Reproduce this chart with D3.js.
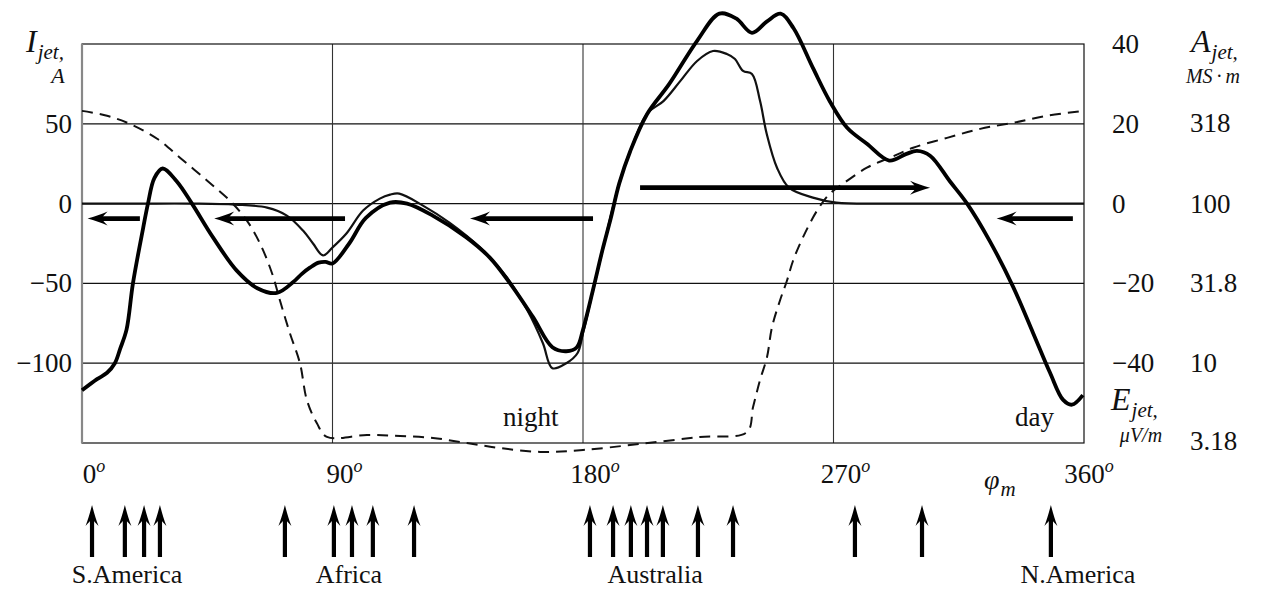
<!DOCTYPE html>
<html>
<head>
<meta charset="utf-8">
<script src="https://cdn.jsdelivr.net/npm/d3@7"></script>
<style>
  body { margin: 0; background: #fff; }
  svg text { font-family: "Liberation Serif", "DejaVu Serif", serif; fill: #111; }
</style>
</head>
<body>
<svg id="chart" width="1264" height="590"></svg>
<script>
// magnetic longitude ticks
const degTicks = [0, 90, 180, 270, 360];
const iTicks = [50, 0, -50, -100];          // I_jet, A
const aTicks = [40, 20, 0, -20, -40];       // A_jet, MS*m
const eTicks = [318, 100, 31.8, 10, 3.18];  // E_jet, uV/m (log)

// thick curve: I_jet [deg, A]
const iJet = [
  [0, -117], [5.4, -110], [9, -106], [11.8, -100], [13.7, -91], [16, -79], [18.3, -50],
  [22, -15], [23.7, 0], [26, 16], [29, 22], [34, 14], [39.5, 0], [47, -21], [55.6, -42],
  [63, -53], [70, -56], [76, -49], [79, -44], [82, -40], [85, -37], [87.5, -36.5], [90, -37.5],
  [96, -25], [102, -9], [110.7, 0.6], [116.8, 0], [126, -7.5], [138, -21], [146.6, -34],
  [153.8, -50], [162, -71], [169, -90], [174, -92.5], [177.8, -90], [180, -79], [183.6, -54],
  [187, -29], [190, -9], [193, 12.5], [197, 33], [203, 56], [211, 75], [221, 102], [229, 119],
  [235, 116], [240.7, 107], [246, 114], [251, 119], [255.6, 110], [262.6, 85], [268.7, 64],
  [274.9, 47.5], [282, 37.5], [290, 27], [296, 31], [300, 33], [304.7, 30], [311.8, 14],
  [318, 0], [326, -23], [334.5, -52], [341.7, -81], [347.8, -106], [352.5, -123],
  [355.7, -126], [359.6, -120]
];

// thin curve: A_jet [deg, MS*m]
const aJet = [
  [0, 0], [20, 0], [40, 0], [55, -0.25], [66.5, -1], [73.6, -3], [79.4, -6.75], [83, -10],
  [86.6, -13], [90, -11], [95, -7.5], [101, -1.75], [107, 1.25], [110.7, 2.25], [114, 2.5],
  [122.5, -0.5], [132, -4.75], [143, -11], [152.7, -18.5], [160, -26.75], [165.6, -35],
  [169, -41.25], [174, -40], [178, -37.5], [180, -32.5], [183.6, -21.75], [187, -11.75],
  [193, 5], [197, 13.25], [203, 22.5], [209, 25.75], [215, 30.75], [221, 35.75],
  [226.7, 38.25], [231.7, 37.5], [234.6, 36.25], [237.5, 33.25], [240.7, 32.5],
  [243.6, 25.75], [246, 17.5], [249.7, 9], [254, 4], [262.6, 1.5], [271, 0.25],
  [290, 0], [320, 0], [360, 0]
];

// dashed curve: E_jet [deg, uV/m]
const eJet = [
  [0, 381], [9, 355], [17.2, 316], [27, 255], [35.2, 194], [45, 139], [53.2, 104],
  [59.3, 78], [64, 56], [68.3, 36.5], [71.1, 24.8], [74.7, 15.4], [78.3, 10], [80.8, 5.87],
  [84.4, 4.2], [88, 3.45], [102.4, 3.55], [114.3, 3.5], [126.1, 3.4], [138.3, 3.16],
  [150.2, 2.94], [164.6, 2.78], [180, 2.86], [200.5, 3.12], [222, 3.45], [238.9, 3.7],
  [241.1, 5.31], [243.6, 7.83], [246.1, 10.9], [247.9, 16.8], [250.8, 24.8], [253.3, 33],
  [255.5, 44], [259, 61.3], [264.1, 90.4], [268.7, 115.5], [273.4, 133], [282, 168],
  [290.3, 194], [298.6, 224], [310.8, 258], [322.7, 294], [334.5, 321], [346.7, 355],
  [359.7, 381]
];

// current flow arrows inside the plot [fromDeg, toDeg, I level]
const flowArrows = [
  [20.8, 2.0, -9.4], [94.5, 47.5, -9.4], [183.6, 139.4, -9.4],
  [200.5, 304.7, 10], [356, 328.6, -9.4]
];

// station arrows under the axis, degrees
const stations = [3.6, 15.4, 22.3, 28.0, 72.9, 90.5, 97.0, 104.5, 119.3,
  182.5, 190.8, 197.2, 203.0, 208.7, 221.3, 233.9, 277.7, 301.8, 348.1];
const continents = [["S.America", 16.2], ["Africa", 95.9], ["Australia", 205.9], ["N.America", 357.8]];

const svg = d3.select('#chart');
const pLeft = 82, pRight = 1084, pTop = 44, pBottom = 443;

const x = d3.scaleLinear().domain([0, 360]).range([pLeft, pRight]);
const yI = d3.scaleLinear().domain([-150, 100]).range([pBottom, pTop]);
const yA = d3.scaleLinear().domain([-60, 40]).range([pBottom, pTop]);
const yE = d3.scaleLog().domain([Math.sqrt(10), 1000]).range([pBottom, pTop]);

// grid
const grid = svg.append('g');
grid.selectAll('line.h')
  .data(iTicks)
  .join('line')
  .attr('class', 'h')
  .attr('x1', pLeft).attr('x2', pRight)
  .attr('y1', d => yI(d)).attr('y2', d => yI(d))
  .attr('stroke', '#111').attr('stroke-width', 1.2);
grid.selectAll('line.v')
  .data(degTicks.slice(1, 4))
  .join('line')
  .attr('class', 'v')
  .attr('x1', d => x(d)).attr('x2', d => x(d))
  .attr('y1', pTop).attr('y2', pBottom)
  .attr('stroke', '#333').attr('stroke-width', 1.1);

// frame
svg.append('rect')
  .attr('x', pLeft).attr('y', pTop)
  .attr('width', pRight - pLeft).attr('height', pBottom - pTop)
  .attr('fill', 'none').attr('stroke', '#111').attr('stroke-width', 1.2);
svg.append('line')
  .attr('x1', pLeft).attr('x2', pLeft).attr('y1', pTop).attr('y2', pBottom)
  .attr('stroke', '#888').attr('stroke-width', 2.2);

// curves
const curve = d3.curveCatmullRom.alpha(0.5);
const lineI = d3.line().x(d => x(d[0])).y(d => yI(d[1])).curve(curve);
const lineA = d3.line().x(d => x(d[0])).y(d => yA(d[1])).curve(curve);
const lineE = d3.line().x(d => x(d[0])).y(d => yE(d[1])).curve(curve);

svg.append('path').datum(eJet)
  .attr('d', lineE).attr('fill', 'none')
  .attr('stroke', '#111').attr('stroke-width', 2)
  .attr('stroke-dasharray', '11,7');

svg.append('path').datum(aJet)
  .attr('d', lineA).attr('fill', 'none')
  .attr('stroke', '#111').attr('stroke-width', 2.2);

svg.append('path').datum(iJet)
  .attr('d', lineI).attr('fill', 'none')
  .attr('stroke', '#000').attr('stroke-width', 3.8)
  .attr('stroke-linejoin', 'round');

// arrow helper: tip at (x2, y2)
function arrow(g, x1, y1, x2, y2, w, len, half) {
  const ang = Math.atan2(y2 - y1, x2 - x1) * 180 / Math.PI;
  const dist = Math.hypot(x2 - x1, y2 - y1);
  const a = g.append('g').attr('transform', `translate(${x2},${y2}) rotate(${ang})`);
  a.append('line')
    .attr('x1', -dist).attr('x2', -len * 0.6)
    .attr('y1', 0).attr('y2', 0)
    .attr('stroke', '#000').attr('stroke-width', w);
  a.append('path')
    .attr('d', `M0,0 C${-len * 0.35},${-half * 0.3} ${-len * 0.7},${-half * 0.6} ${-len},${-half}
      C${-len * 0.8},${-half * 0.4} ${-len * 0.72},${-half * 0.15} ${-len * 0.72},0
      C${-len * 0.72},${half * 0.15} ${-len * 0.8},${half * 0.4} ${-len},${half}
      C${-len * 0.7},${half * 0.6} ${-len * 0.35},${half * 0.3} 0,0 Z`)
    .attr('fill', '#000');
}

const arrows = svg.append('g');
flowArrows.forEach(d => {
  arrow(arrows, x(d[0]), yI(d[2]), x(d[1]), yI(d[2]), 4.6, 20, 7);
});

const stationG = svg.append('g');
stations.forEach(d => {
  arrow(stationG, x(d), 557, x(d), 505, 4.2, 21, 6.5);
});

// tick labels
const fs = 27;
svg.append('g').selectAll('text')
  .data(iTicks)
  .join('text')
  .attr('x', 72).attr('y', d => yI(d) + 9)
  .attr('text-anchor', 'end')
  .attr('font-size', fs)
  .text(d => d < 0 ? '\u2212' + Math.abs(d) : d);

svg.append('g').selectAll('text')
  .data(aTicks)
  .join('text')
  .attr('x', 1112).attr('y', d => yA(d) + 9)
  .attr('font-size', fs)
  .text(d => d < 0 ? '\u2212' + Math.abs(d) : d);

svg.append('g').selectAll('text')
  .data(eTicks)
  .join('text')
  .attr('x', 1190).attr('y', d => Math.min(yE(d) + 9, 450))
  .attr('font-size', fs)
  .text(d => d);

const xl = svg.append('g').selectAll('text')
  .data(degTicks)
  .join('text')
  .attr('x', d => x(d) + (d === 360 ? 5 : 12)).attr('y', 483)
  .attr('text-anchor', 'middle')
  .attr('font-size', fs);
xl.append('tspan').text(d => d);
xl.append('tspan').attr('dy', -11).attr('font-size', 18).attr('font-style', 'italic').text('o');

// axis titles
function title(px, py, main, sub, mainSize) {
  const t = svg.append('text').attr('x', px).attr('y', py).attr('font-style', 'italic');
  t.append('tspan').attr('font-size', mainSize).text(main);
  t.append('tspan').attr('font-size', 21).attr('dy', 7).attr('dx', 1).text(sub);
  return t;
}
title(26, 52, 'I', 'jet,', 32);
svg.append('text').attr('x', 58).attr('y', 83).attr('text-anchor', 'middle')
  .attr('font-style', 'italic').attr('font-size', 22).text('A');

title(1191, 52, 'A', 'jet,', 32);
svg.append('text').attr('x', 1213).attr('y', 83).attr('text-anchor', 'middle')
  .attr('font-style', 'italic').attr('font-size', 20).text('MS\u2009\u00b7\u2009m');

title(1111, 410, 'E', 'jet,', 32);
svg.append('text').attr('x', 1141).attr('y', 442).attr('text-anchor', 'middle')
  .attr('font-style', 'italic').attr('font-size', 20).text('\u03bcV/m');

title(984, 489, '\u03c6', 'm', 28);

// night / day
svg.append('text').attr('x', 503).attr('y', 426).attr('font-size', fs).text('night');
svg.append('text').attr('x', 1015).attr('y', 426).attr('font-size', fs).text('day');

// continents
svg.append('g').selectAll('text')
  .data(continents)
  .join('text')
  .attr('x', d => x(d[1])).attr('y', 583)
  .attr('text-anchor', 'middle')
  .attr('font-size', 26)
  .text(d => d[0]);
</script>
</body>
</html>
